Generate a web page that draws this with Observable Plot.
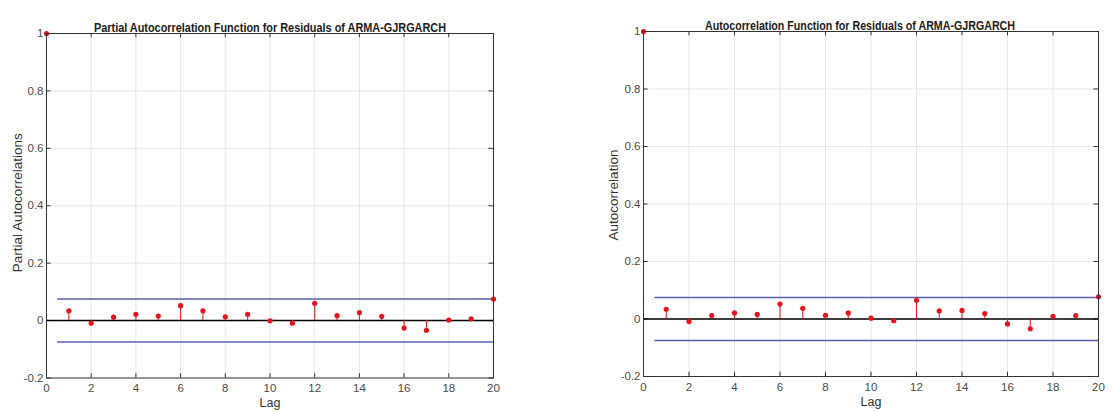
<!DOCTYPE html>
<html>
<head>
<meta charset="utf-8">
<script src="https://cdn.jsdelivr.net/npm/d3@7"></script>
<script src="https://cdn.jsdelivr.net/npm/@observablehq/plot@0.6"></script>
<style>
  body { margin: 0; background: #fff; }
  #wrap { display: flex; width: 1112px; height: 412px; }
  svg { font-family: "Liberation Sans", Arial, sans-serif; }
</style>
</head>
<body>
<div id="wrap"></div>
<script>
const lags = [0,1,2,3,4,5,6,7,8,9,10,11,12,13,14,15,16,17,18,19,20];
const pacfValues = [1,0.034,-0.009,0.012,0.022,0.016,0.052,0.034,0.013,0.022,-0.001,-0.009,0.060,0.017,0.028,0.015,-0.026,-0.034,0.002,0.006,0.075];
const acfValues  = [1,0.034,-0.009,0.012,0.021,0.016,0.052,0.037,0.013,0.021,0.003,-0.006,0.065,0.028,0.030,0.019,-0.017,-0.034,0.009,0.012,0.077];
const bound = 0.075;
const xTicks = [0,2,4,6,8,10,12,14,16,18,20];
const yTicks = [-0.2,0,0.2,0.4,0.6,0.8,1];
const titles = ["Partial Autocorrelation Function for Residuals of ARMA-GJRGARCH", "Autocorrelation Function for Residuals of ARMA-GJRGARCH"];
const yLabels = ["Partial Autocorrelations", "Autocorrelation"];
const xLabel = "Lag";

const RED = "#e3141b", BLUE = "#5a5db0", TICKC = "#4a4a4a";

function makeChart(values, title, ylab, m) {
  const data = lags.map((l, i) => ({lag: l, value: values[i]}));
  const bounds = [bound, -bound].map(b => ({y: b}));
  const svg = Plot.plot({
    width: 556, height: 412,
    marginLeft: m.left, marginRight: m.right, marginTop: m.top, marginBottom: m.bottom,
    style: {fontFamily: "'Liberation Sans', Arial, sans-serif", fontSize: "11.5px", background: "#fff", overflow: "visible"},
    x: {domain: [0, 20]},
    y: {domain: [-0.2, 1]},
    marks: [
      Plot.gridX(xTicks, {stroke: "#e6e6e6", strokeOpacity: 1}),
      Plot.gridY(yTicks, {stroke: "#e6e6e6", strokeOpacity: 1}),
      Plot.ruleX(xTicks, {y1: 1, y2: 0.985, stroke: "#333"}),
      Plot.ruleX(xTicks, {y1: -0.2, y2: -0.185, stroke: "#333"}),
      Plot.ruleY(yTicks, {x1: 20, x2: 19.8, stroke: "#333"}),
      Plot.ruleY(yTicks, {x1: 0, x2: 0.2, stroke: "#333"}),
      Plot.ruleY(bounds, {y: "y", x1: 0.5, x2: 20, stroke: BLUE, strokeWidth: 1.5}),
      Plot.ruleY([0], {stroke: "#000", strokeWidth: 1.5}),
      Plot.ruleX(data, {x: "lag", y1: 0, y2: "value", stroke: RED, strokeWidth: 1}),
      Plot.dot(data, {x: "lag", y: "value", r: 2.6, fill: RED, stroke: null}),
      Plot.frame({stroke: "#333"}),
      Plot.axisX(xTicks, {tickSize: 0, tickPadding: 6, fill: TICKC, label: null, tickFormat: d => String(d)}),
      Plot.axisY(yTicks, {tickSize: 0, tickPadding: 3, fill: TICKC, label: null, tickFormat: d => String(+d.toFixed(1))}),
      Plot.text([title], {frameAnchor: "top", dy: -11, dx: m.titleDx, fontWeight: "bold", fontSize: 13.5, fill: "#1a1a1a"}),
      Plot.text([ylab], {frameAnchor: "left", rotate: -90, dx: m.ylabDx, dy: m.ylabDy, textAnchor: "middle", fontSize: 13.5, fill: "#333"}),
      Plot.text([xLabel], {frameAnchor: "bottom", dy: 29, textAnchor: "middle", fontSize: 12.5, fill: "#333"})
    ]
  });
  d3.select(svg).selectAll("text").filter(function() { return this.textContent === title; })
    .attr("textLength", m.titleWidth).attr("lengthAdjust", "spacingAndGlyphs");
  return svg;
}

const wrap = document.getElementById("wrap");
wrap.appendChild(makeChart(pacfValues, titles[0], yLabels[0], {left: 46, right: 63, top: 33, bottom: 34.5, ylabDx: -29, ylabDy: -3, titleDx: 0, titleWidth: 352}));
wrap.appendChild(makeChart(acfValues, titles[1], yLabels[1], {left: 87, right: 14, top: 31, bottom: 36, ylabDx: -30, ylabDy: -9, titleDx: -11, titleWidth: 310}));
</script>
</body>
</html>
